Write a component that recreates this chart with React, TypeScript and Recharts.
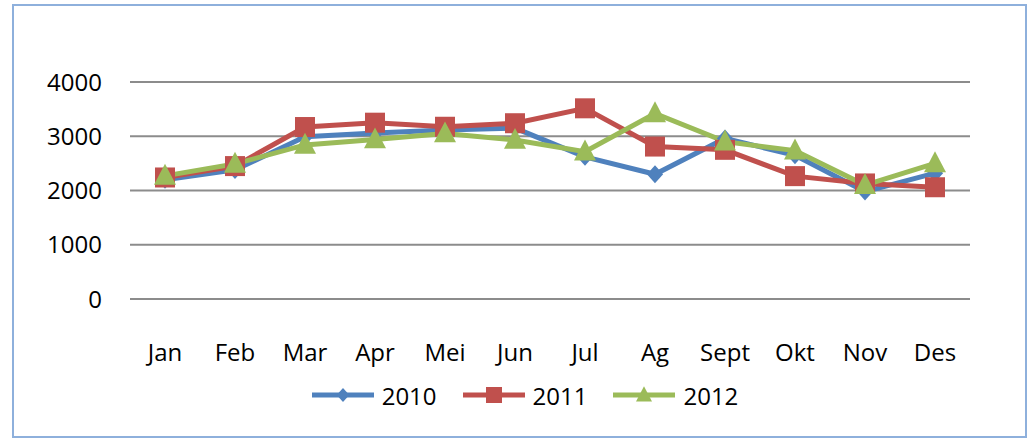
import { CartesianGrid, Legend, Line, LineChart, XAxis, YAxis } from "recharts";

const months = ["Jan", "Feb", "Mar", "Apr", "Mei", "Jun", "Jul", "Ag", "Sept", "Okt", "Nov", "Des"];
const values2010 = [2200, 2380, 2990, 3060, 3115, 3150, 2620, 2300, 2960, 2650, 1980, 2320];
const values2011 = [2240, 2450, 3170, 3250, 3175, 3240, 3515, 2810, 2750, 2265, 2130, 2060];
const values2012 = [2270, 2490, 2840, 2940, 3050, 2930, 2715, 3420, 2900, 2735, 2100, 2500];
const yTicks = [0, 1000, 2000, 3000, 4000];

const BLUE = "#4f81bd";
const RED = "#c0504d";
const GREEN = "#9bbb59";
const FONT = "'Open Sans', sans-serif";

const data = months.map((m, i) => ({
  month: m,
  y2010: values2010[i],
  y2011: values2011[i],
  y2012: values2012[i],
}));

function Diamond({ cx, cy, r = 9, fill }: { cx: number; cy: number; r?: number; fill: string }) {
  const w = r * 0.9;
  return <path d={`M${cx},${cy - r}L${cx + w},${cy}L${cx},${cy + r}L${cx - w},${cy}Z`} fill={fill} />;
}

function Square({ cx, cy, r = 10, fill }: { cx: number; cy: number; r?: number; fill: string }) {
  return <rect x={cx - r} y={cy - r} width={r * 2} height={r * 2} fill={fill} />;
}

function Triangle({ cx, cy, r = 11, fill }: { cx: number; cy: number; r?: number; fill: string }) {
  return (
    <path
      d={`M${cx},${cy - r * 1.1}L${cx + r},${cy + r * 0.8}L${cx - r},${cy + r * 0.8}Z`}
      fill={fill}
    />
  );
}

const legendItems = [
  { label: "2010", color: BLUE, Shape: Diamond, r: 7 },
  { label: "2011", color: RED, Shape: Square, r: 8 },
  { label: "2012", color: GREEN, Shape: Triangle, r: 8 },
];

function LegendBox() {
  return (
    <div
      style={{
        display: "flex",
        justifyContent: "center",
        alignItems: "center",
        height: 40,
        width: 1032,
        paddingLeft: 18,
        boxSizing: "border-box",
        fontFamily: FONT,
        fontSize: 24,
        color: "#000",
      }}
    >
      {legendItems.map(({ label, color, Shape, r }) => (
        <div key={label} style={{ display: "flex", alignItems: "center", margin: "0 13px" }}>
          <svg width={62} height={24} style={{ marginRight: 8 }}>
            <line x1={0} y1={12} x2={62} y2={12} stroke={color} strokeWidth={5} strokeLinecap="round" />
            <Shape cx={31} cy={12} r={r} fill={color} />
          </svg>
          <span>{label}</span>
        </div>
      ))}
    </div>
  );
}

export default function App() {
  return (
    <div style={{ position: "absolute", left: 0, top: 0, width: 1032, height: 442, background: "#fff" }}>
      <div
        style={{
          position: "absolute",
          left: 12,
          top: 4,
          width: 1011,
          height: 430,
          border: "2px solid #8eb0dc",
        }}
      />
      <div style={{ position: "absolute", left: 0, top: 0 }}>
        <LineChart width={1032} height={442} data={data} margin={{ top: 82, right: 62, left: 0, bottom: 27 }}>
          <CartesianGrid vertical={false} stroke="#8c8c8c" strokeWidth={2} />
          <XAxis
            dataKey="month"
            axisLine={false}
            tickLine={false}
            tickSize={0}
            tickMargin={45}
            height={76}
            interval={0}
            padding={{ left: 35, right: 35 }}
            tick={{ fill: "#000", fontSize: 24, fontFamily: FONT }}
          />
          <YAxis
            domain={[0, 4000]}
            ticks={yTicks}
            axisLine={false}
            tickLine={false}
            tickSize={0}
            tickMargin={28}
            width={130}
            tick={{ fill: "#000", fontSize: 24, fontFamily: FONT }}
          />
          <Legend verticalAlign="bottom" height={40} content={() => <LegendBox />} />
          <Line
            dataKey="y2010"
            stroke={BLUE}
            strokeWidth={5}
            isAnimationActive={false}
            dot={(p: any) => <Diamond key={p.index} cx={p.cx} cy={p.cy} fill={BLUE} />}
          />
          <Line
            dataKey="y2011"
            stroke={RED}
            strokeWidth={5}
            isAnimationActive={false}
            dot={(p: any) => <Square key={p.index} cx={p.cx} cy={p.cy} fill={RED} />}
          />
          <Line
            dataKey="y2012"
            stroke={GREEN}
            strokeWidth={5}
            isAnimationActive={false}
            dot={(p: any) => <Triangle key={p.index} cx={p.cx} cy={p.cy} fill={GREEN} />}
          />
        </LineChart>
      </div>
    </div>
  );
}
